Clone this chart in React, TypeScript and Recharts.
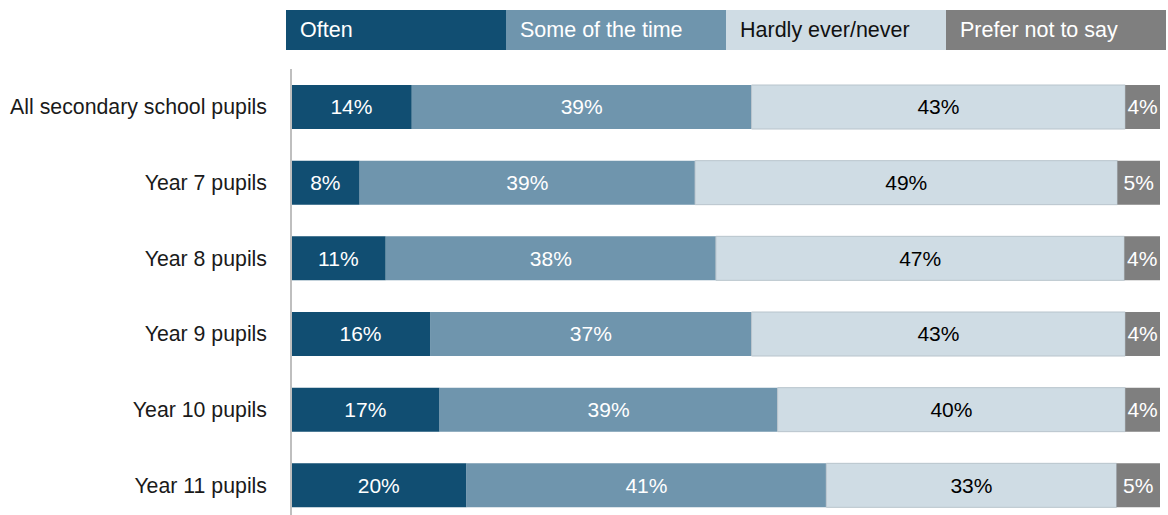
import React from 'react'
import { BarChart, Bar, XAxis, YAxis, LabelList } from 'recharts'

const groups = [
    'All secondary school pupils',
    'Year 7 pupils',
    'Year 8 pupils',
    'Year 9 pupils',
    'Year 10 pupils',
    'Year 11 pupils'
]

// shares; labels show them rounded
const often = [13.9, 7.9, 10.9, 16.0, 17.1, 20.2]
const someOfTheTime = [39.1, 38.6, 38.0, 37.0, 38.9, 41.4]
const hardlyEver = [43.0, 48.6, 47.0, 43.0, 40.0, 33.4]
const preferNotToSay = [4.0, 4.9, 4.1, 4.0, 4.0, 5.0]

const series = [
    { key: 'often', name: 'Often', values: often, fill: '#114E72', text: '#ffffff' },
    { key: 'some', name: 'Some of the time', values: someOfTheTime, fill: '#6F95AD', text: '#ffffff' },
    { key: 'hardly', name: 'Hardly ever/never', values: hardlyEver, fill: '#CFDCE4', text: '#000000' },
    { key: 'prefer', name: 'Prefer not to say', values: preferNotToSay, fill: '#7F7F7F', text: '#ffffff' }
]

const data = groups.map((group, i) => {
    const row: Record<string, string | number> = { group }
    series.forEach((s) => { row[s.key] = s.values[i] })
    return row
})

const font = 'Arial, "Liberation Sans", sans-serif'

const App = () => {
    return (
        <div style={{ position: 'relative', width: 1168, height: 515, overflow: 'hidden', fontFamily: font }}>
            <style>{'body{margin:0}'}</style>

            {/* Legend as a strip of boxes */}
            <div style={{ position: 'absolute', left: 286, top: 10, display: 'flex', zIndex: 2 }}>
                {series.map((s) => (
                    <div
                        key={s.key}
                        style={{
                            width: 220,
                            height: 40,
                            background: s.fill,
                            color: s.key === 'hardly' ? '#111' : '#fff',
                            fontSize: 21.5,
                            lineHeight: '41px',
                            paddingLeft: 14,
                            boxSizing: 'border-box',
                            whiteSpace: 'nowrap'
                        }}
                    >
                        {s.name}
                    </div>
                ))}
            </div>

            <div style={{ position: 'absolute', left: 0, top: 0 }}>
                <BarChart
                    width={1168}
                    height={523}
                    data={data}
                    layout="vertical"
                    margin={{ top: 69, right: 8, left: 0, bottom: 0 }}
                    barCategoryGap={31}
                >
                    <XAxis type="number" hide domain={[0, 100]} allowDataOverflow />
                    <YAxis
                        type="category"
                        dataKey="group"
                        width={291}
                        tickLine={false}
                        tickSize={0}
                        tickMargin={24}
                        axisLine={{ stroke: '#BFBFBF', strokeWidth: 2 }}
                        tick={{ fill: '#1a1a1a', fontSize: 21.3, fontFamily: font }}
                    />
                    {series.map((s) => (
                        <Bar
                            key={s.key}
                            dataKey={s.key}
                            name={s.name}
                            stackId="a"
                            fill={s.fill}
                            stroke={s.key === 'hardly' ? '#B8C4CC' : 'none'}
                            strokeWidth={s.key === 'hardly' ? 1 : 0}
                            barSize={44}
                            isAnimationActive={false}
                        >
                            <LabelList
                                dataKey={s.key}
                                position="center"
                                formatter={(v: number) => `${Math.round(v)}%`}
                                style={{ fill: s.text, fontSize: 21, fontFamily: font }}
                            />
                        </Bar>
                    ))}
                </BarChart>
            </div>
        </div>
    )
}

export default App
